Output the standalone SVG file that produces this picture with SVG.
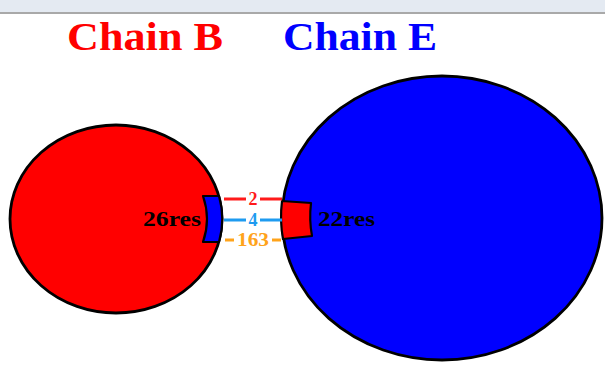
<svg xmlns="http://www.w3.org/2000/svg" width="605" height="368" viewBox="0 0 605 368">
  <style>
    .title { font-family: "Liberation Serif", "Times New Roman", serif; font-weight: bold; font-size: 39px; }
    .res { font-family: "Liberation Serif", "Times New Roman", serif; font-weight: bold; font-size: 20px; fill: #000; }
    .num { font-family: "Liberation Serif", "Times New Roman", serif; font-weight: bold; font-size: 18px; text-anchor: middle; }
    .chain { stroke: #000; stroke-width: 2.8; }
    .patch { stroke: #000; stroke-width: 2.2; stroke-linejoin: round; }
    .link { stroke-width: 3; fill: none; }
  </style>

  <!-- page header strip -->
  <rect x="0" y="0" width="605" height="12" fill="#e4eaf2"/>
  <rect x="0" y="12" width="605" height="2" fill="#a9a9a9"/>
  <rect x="0" y="14" width="605" height="354" fill="#ffffff"/>

  <!-- chain titles -->
  <text class="title" x="67" y="50" fill="#ff0000" textLength="156" lengthAdjust="spacingAndGlyphs">Chain B</text>
  <text class="title" x="283" y="50" fill="#0000ff" textLength="154" lengthAdjust="spacingAndGlyphs">Chain E</text>

  <!-- chain B -->
  <g id="chainB">
    <ellipse class="chain" cx="116" cy="219" rx="106" ry="94" fill="#ff0000"/>
    <path class="patch" fill="#0000ff" d="M203,196 L219,196 A106,94 0 0 1 219,242 L203,242 Q211,219 203,196 Z"/>
    <text class="res" x="143" y="226" textLength="58" lengthAdjust="spacingAndGlyphs">26res</text>
  </g>

  <!-- chain E -->
  <g id="chainE">
    <ellipse class="chain" cx="442" cy="218" rx="160" ry="142" fill="#0000ff"/>
    <path class="patch" fill="#ff0000" d="M282,201 L311,203 Q309,220 312,236 L283,239 A160,142 0 0 1 282,201 Z"/>
    <text class="res" x="318" y="226" textLength="57" lengthAdjust="spacingAndGlyphs">22res</text>
  </g>

  <!-- interface contacts between the chains -->
  <g id="connectors">
    <path class="link" stroke="#ff1a1a" d="M224,199 H246 M260,199 H282"/>
    <text class="num" x="253" y="205" fill="#ff1a1a">2</text>
    <path class="link" stroke="#1e9bf0" d="M224,220 H246 M260,220 H282"/>
    <text class="num" x="253" y="226" fill="#1e9bf0">4</text>
    <path class="link" stroke="#ffa31a" d="M225,240 H234 M272,240 H281"/>
    <text class="num" x="253" y="246" fill="#ffa31a" textLength="32" lengthAdjust="spacingAndGlyphs">163</text>
  </g>
</svg>
